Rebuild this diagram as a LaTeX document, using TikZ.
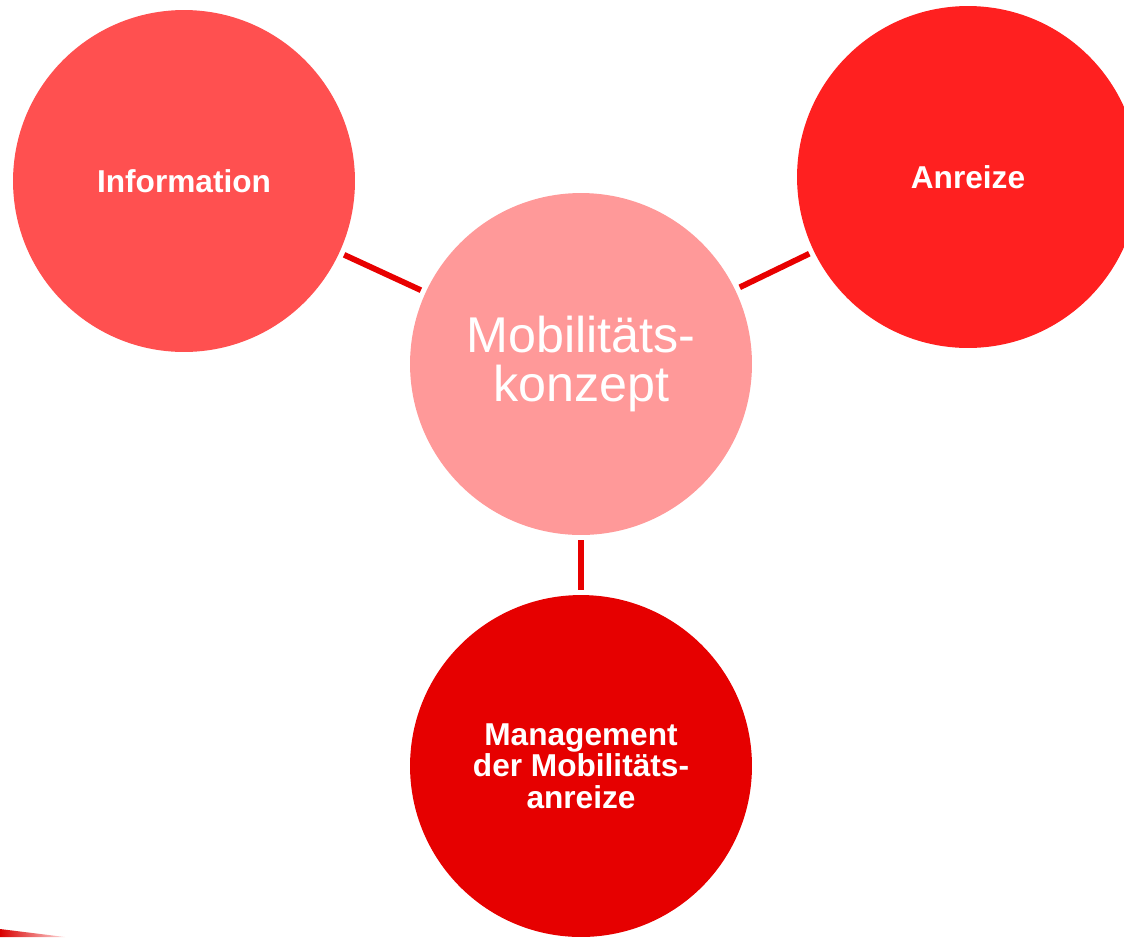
\documentclass[tikz,border=0pt]{standalone}
\usepackage{fontspec}
\setmainfont{Liberation Sans}
\definecolor{infored}{HTML}{FF5050}
\definecolor{anreizred}{HTML}{FF2020}
\definecolor{centerred}{HTML}{FF9999}
\definecolor{mgmtred}{HTML}{E60000}
\definecolor{linkred}{HTML}{E80000}
\begin{document}
\begin{tikzpicture}[x=0.02cm,y=-0.02cm,
	bubble/.style={circle, minimum size=6.84cm, inner sep=0pt, align=center, text=white},
	pillar/.style={bubble, font=\bfseries\fontsize{18}{18}\selectfont},
	link/.style={linkred, line width=3.3pt, shorten <=0.1cm, shorten >=0.1cm}]
	\useasboundingbox (0,0) rectangle (1124,937);
	\clip (0,0) rectangle (1124,937);
	%Draw circles
	\node[bubble, fill=centerred, font=\fontsize{28.6}{28.4}\selectfont] (konzept) at (581,364) {Mobilitäts-\\konzept};
	\node[pillar, fill=infored]   (info)    at (184,181) {Information};
	\node[pillar, fill=anreizred] (anreize) at (968,177) {Anreize};
	\node[pillar, fill=mgmtred]   (mgmt)    at (581,766) {Management\\der Mobilitäts-\\anreize};
	%Draw links
	\draw[link] (info) -- (konzept);
	\draw[link] (anreize) -- (konzept);
	\draw[link] (konzept) -- (mgmt);
	%Draw corner
	\shade[left color=red!85!black, right color=red!15] (0,929) -- (65,937) -- (0,937) -- cycle;
\end{tikzpicture}
\end{document}
